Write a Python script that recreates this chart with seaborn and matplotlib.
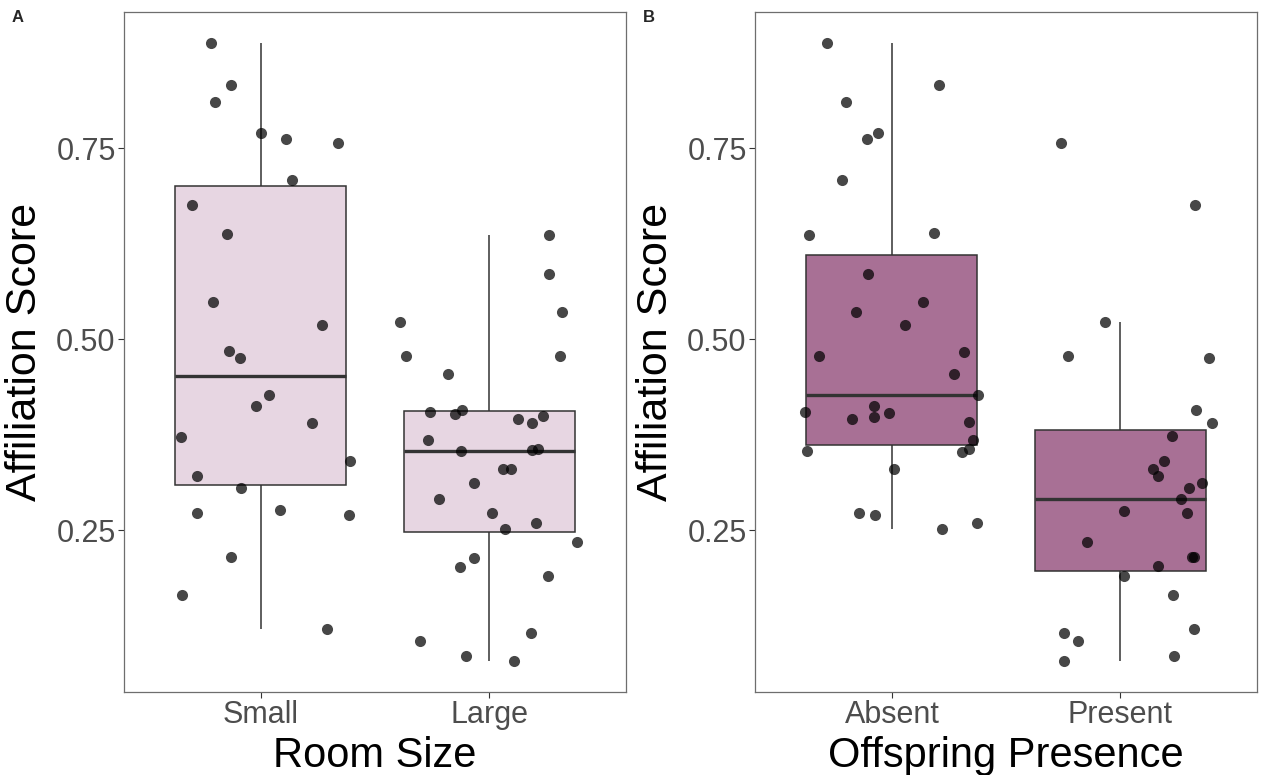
import numpy as np
import pandas as pd
import matplotlib
matplotlib.use("Agg")
import matplotlib.pyplot as plt
import seaborn as sns

# affiliation scores, with the horizontal jitter of each dot
small_score = [0.888, 0.833, 0.810, 0.770, 0.762, 0.757, 0.709, 0.676, 0.638, 0.549,
               0.518, 0.484, 0.476, 0.427, 0.412, 0.390, 0.372, 0.340, 0.321, 0.305,
               0.273, 0.276, 0.270, 0.215, 0.165, 0.120]
small_jit = [-0.217, -0.130, -0.202, 0.001, 0.110, 0.336, 0.138, -0.303, -0.147, -0.212,
             0.268, -0.142, -0.093, 0.034, -0.020, 0.224, -0.351, 0.392, -0.282, -0.087,
             -0.281, 0.085, 0.384, -0.129, -0.346, 0.290]

large_score = [0.636, 0.586, 0.536, 0.522, 0.478, 0.478, 0.455, 0.408, 0.405, 0.402,
               0.399, 0.396, 0.390, 0.368, 0.356, 0.355, 0.3535, 0.330, 0.330, 0.312,
               0.2905, 0.2726, 0.260, 0.2517, 0.235, 0.214, 0.202, 0.190, 0.1155, 0.1047,
               0.085, 0.0786]
large_jit = [0.264, 0.261, 0.319, -0.392, -0.365, 0.309, -0.179, -0.117, -0.261, -0.149,
             0.238, 0.127, 0.186, -0.266, 0.213, 0.186, -0.121, 0.061, 0.098, -0.064,
             -0.219, 0.011, 0.207, 0.070, 0.385, -0.067, -0.126, 0.256, 0.184, -0.302,
             -0.101, 0.108]

absent_score = [0.888, 0.833, 0.810, 0.770, 0.762, 0.709, 0.636, 0.639, 0.5855, 0.549,
                0.536, 0.518, 0.483, 0.4775, 0.455, 0.427, 0.412, 0.405, 0.403, 0.398,
                0.396, 0.391, 0.368, 0.356, 0.354, 0.353, 0.3305, 0.273, 0.2696, 0.260,
                0.2517]
absent_jit = [-0.285, 0.205, -0.200, -0.061, -0.110, -0.220, -0.362, 0.185, -0.106, 0.137,
              -0.158, 0.056, 0.317, -0.321, 0.272, 0.377, -0.079, -0.383, -0.014, -0.080,
              -0.177, 0.340, 0.355, 0.336, -0.374, 0.307, 0.007, -0.143, -0.073, 0.372,
              0.220]

present_score = [0.757, 0.676, 0.523, 0.4775, 0.476, 0.408, 0.390, 0.373, 0.340, 0.330,
                 0.321, 0.312, 0.305, 0.2905, 0.2726, 0.2757, 0.235, 0.215, 0.215, 0.2026,
                 0.190, 0.165, 0.120, 0.116, 0.1047, 0.0786, 0.085]
present_jit = [-0.257, 0.327, -0.064, -0.228, 0.390, 0.333, 0.401, 0.228, 0.193, 0.143,
               0.164, 0.359, 0.304, 0.267, 0.294, 0.016, -0.145, 0.317, 0.323, 0.165,
               0.019, 0.231, 0.326, -0.248, -0.185, -0.248, 0.237]

panels = [
    dict(letter="A", title="Room Size", groups=["Small", "Large"],
         scores=[small_score, large_score], jits=[small_jit, large_jit],
         fill="#E7D6E2", left=124),
    dict(letter="B", title="Offspring Presence", groups=["Absent", "Present"],
         scores=[absent_score, present_score], jits=[absent_jit, present_jit],
         fill="#A87095", left=755),
]

sns.set_theme(style="white")
plt.rcParams["font.family"] = ["Liberation Sans", "DejaVu Sans"]

W, H = 1268, 775
fig = plt.figure(figsize=(W / 100, H / 100), dpi=100)

all_vals = np.concatenate([small_score, large_score])
lo, hi = all_vals.min(), all_vals.max()
pad = 0.05 * (hi - lo)

for p in panels:
    ax = fig.add_axes([p["left"] / W, (H - 692) / H, 502 / W, 680 / H])
    df = pd.DataFrame({
        "group": np.repeat(p["groups"], [len(s) for s in p["scores"]]),
        "score": np.concatenate(p["scores"]),
    })
    sns.boxplot(data=df, x="group", y="score", order=p["groups"], color=p["fill"],
                saturation=1, width=0.75, showfliers=False, showcaps=False, whis=1.5,
                linecolor="#333333", linewidth=1.1,
                medianprops=dict(linewidth=2.4, color="#333333"), ax=ax)
    xs = np.concatenate([i + np.array(j) for i, j in enumerate(p["jits"])])
    sns.scatterplot(x=xs, y=df["score"].values, color="black", alpha=0.72, s=64,
                    linewidth=0, ax=ax, zorder=3)

    ax.set_xlim(-0.6, 1.6)
    ax.set_ylim(lo - pad, hi + pad)
    ax.set_yticks([0.25, 0.50, 0.75])
    ax.set_yticklabels(["0.25", "0.50", "0.75"])
    ax.set_xticks([0, 1])
    ax.set_xticklabels(p["groups"])
    ax.tick_params(axis="both", length=4, width=0.8, color="#333333",
                   labelcolor="#4D4D4D", labelsize=22, pad=2,
                   left=True, bottom=True)
    ax.set_xlabel(p["title"], fontsize=30, labelpad=4, color="black")
    ax.set_ylabel("Affiliation Score", fontsize=31, labelpad=8, color="black")
    for sp in ax.spines.values():
        sp.set_visible(True)
        sp.set_color("#6E6E6E")
        sp.set_linewidth(0.9)
    fig.text((p["left"] - 112) / W, 1 - 18 / H, p["letter"], fontsize=12,
             fontweight="bold", va="center", ha="left")

fig.savefig("out.png", dpi=100)
